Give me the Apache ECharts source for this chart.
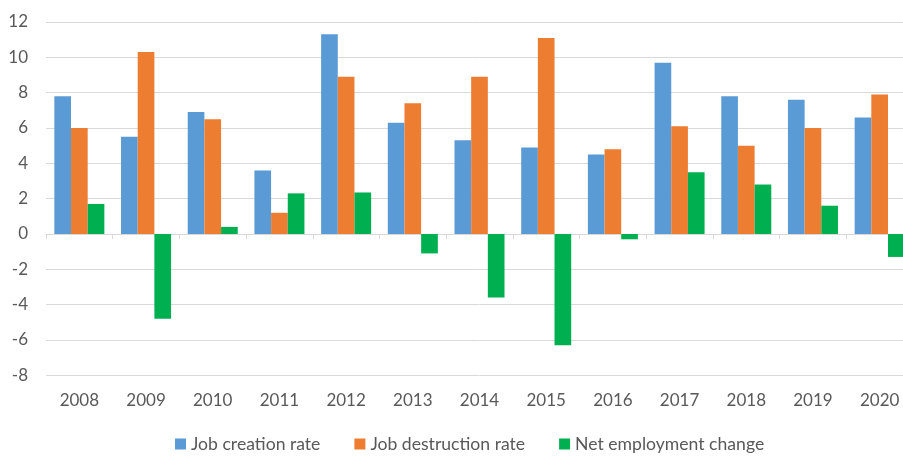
<!DOCTYPE html>
<html>
<head>
<meta charset="utf-8">
<script src="https://cdn.jsdelivr.net/npm/echarts@6/dist/echarts.min.js"></script>
<style>
  html, body { margin: 0; padding: 0; background: #ffffff; overflow: hidden; width: 903px; height: 464px; }
  /* the plot runs slightly past the right edge of the page */
  #chart { width: 913px; height: 464px; }
</style>
</head>
<body>
<div id="chart"></div>
<script>
// Annual labour-market flows, in percent
const years = ['2008', '2009', '2010', '2011', '2012', '2013', '2014', '2015', '2016', '2017', '2018', '2019', '2020'];
const jobCreation = [7.8, 5.5, 6.9, 3.6, 11.3, 6.3, 5.3, 4.9, 4.5, 9.7, 7.8, 7.6, 6.6];
const jobDestruction = [6.0, 10.3, 6.5, 1.2, 8.9, 7.4, 8.9, 11.1, 4.8, 6.1, 5.0, 6.0, 7.9];
const netChange = [1.7, -4.8, 0.4, 2.3, 2.35, -1.1, -3.6, -6.3, -0.3, 3.5, 2.8, 1.6, -1.3];
const seriesNames = ['Job creation rate', 'Job destruction rate', 'Net employment change'];
const seriesColors = ['#5B9BD5', '#ED7D31', '#00B050'];

const textColor = '#595959';
const gridColor = '#D9D9D9';
const fontFamily = 'Lato, "Open Sans", sans-serif';

const chart = echarts.init(document.getElementById('chart'), null, { renderer: 'canvas' });

const valueSets = [jobCreation, jobDestruction, netChange];

chart.setOption({
  backgroundColor: '#ffffff',
  animation: false,
  textStyle: { fontFamily: fontFamily },
  grid: { left: 46, top: 22, width: 867, height: 353.3, containLabel: false },
  legend: {
    top: 430,
    left: 170,
    itemWidth: 11,
    itemHeight: 11,
    itemGap: 34,
    icon: 'rect',
    textStyle: { color: textColor, fontSize: 17.6, fontFamily: fontFamily },
    data: seriesNames
  },
  xAxis: [
    {
      // category labels sit below the plot
      type: 'category',
      position: 'bottom',
      data: years,
      axisLine: { show: false, onZero: false },
      axisTick: { show: false },
      axisLabel: { color: textColor, fontSize: 17, margin: 17, fontFamily: fontFamily },
      splitLine: { show: false }
    },
    {
      // horizontal axis line drawn through zero, ticks pointing down
      type: 'category',
      position: 'top',
      data: years,
      axisLine: { show: true, onZero: true, lineStyle: { color: gridColor, width: 1 } },
      axisTick: { show: true, inside: true, length: 5, lineStyle: { color: gridColor } },
      axisLabel: { show: false },
      splitLine: { show: false }
    }
  ],
  yAxis: {
    type: 'value',
    min: -8,
    max: 12,
    interval: 2,
    axisLine: { show: false },
    axisTick: { show: false },
    axisLabel: { color: textColor, fontSize: 17, margin: 18, fontFamily: fontFamily },
    splitLine: { show: true, lineStyle: { color: gridColor, width: 1 } }
  },
  series: seriesNames.map((name, i) => ({
    name: name,
    type: 'bar',
    xAxisIndex: 0,
    data: valueSets[i],
    barGap: '0%',
    barCategoryGap: '25%',
    itemStyle: { color: seriesColors[i] }
  }))
});
</script>
</body>
</html>
